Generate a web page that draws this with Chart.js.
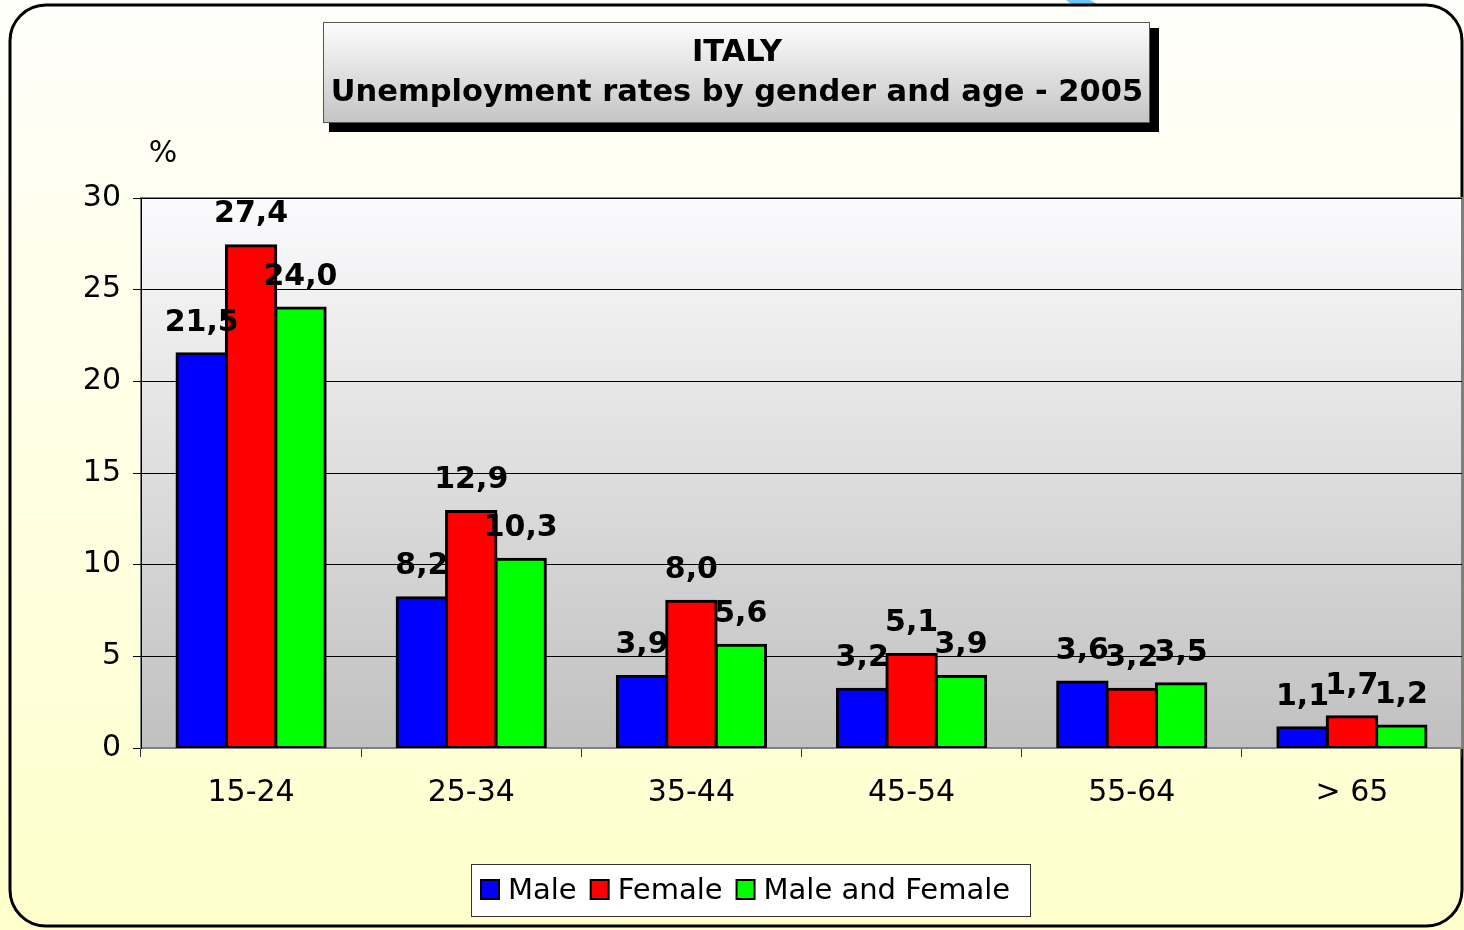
<!DOCTYPE html>
<html>
<head>
<meta charset="utf-8">
<script src="https://cdn.jsdelivr.net/npm/chart.js@4/dist/chart.umd.min.js"></script>
<style>
  html, body { margin: 0; padding: 0; background: #fff; }
  #wrap { width: 1464px; height: 930px; }
</style>
</head>
<body>
<div id="wrap"><canvas id="chart" width="1464" height="930"></canvas></div>
<script>
// Data
const ageGroups = ["15-24", "25-34", "35-44", "45-54", "55-64", "> 65"];
const male = [21.5, 8.2, 3.9, 3.2, 3.6, 1.1];
const female = [27.4, 12.9, 8.0, 5.1, 3.2, 1.7];
const maleAndFemale = [24.0, 10.3, 5.6, 3.9, 3.5, 1.2];
const yTicks = [0, 5, 10, 15, 20, 25, 30];
const titleLines = ["ITALY", "Unemployment rates by gender and age - 2005"];

const FONT = "'DejaVu Sans', Verdana, sans-serif";

function fmt(v) {
  return v.toFixed(1).replace(".", ",");
}

// page background, rounded frame, title box, plot area
const backdrop = {
  id: "backdrop",
  beforeDraw(chart) {
    const ctx = chart.ctx;
    const W = chart.width, H = chart.height;
    ctx.save();
    let g = ctx.createLinearGradient(0, 0, 0, H);
    g.addColorStop(0, "#fffffb");
    g.addColorStop(1, "#ffffcc");
    ctx.fillStyle = g;
    ctx.fillRect(0, 0, W, H);

    // little blue shape at top edge
    ctx.fillStyle = "#66c8ff";
    ctx.beginPath();
    ctx.moveTo(1066, 0); ctx.lineTo(1090, 0); ctx.lineTo(1099, 5); ctx.lineTo(1072, 5);
    ctx.closePath(); ctx.fill();

    // rounded frame
    ctx.strokeStyle = "#000";
    ctx.lineWidth = 3;
    ctx.beginPath();
    ctx.roundRect(10, 5, 1452, 921, 36);
    ctx.stroke();

    // title box with shadow
    ctx.fillStyle = "#000";
    ctx.fillRect(329, 28, 830, 104);
    g = ctx.createLinearGradient(0, 22, 0, 123);
    g.addColorStop(0, "#fdfdfd");
    g.addColorStop(1, "#c4c4c4");
    ctx.fillStyle = g;
    ctx.fillRect(323, 22, 827, 101);
    ctx.strokeStyle = "#555";
    ctx.lineWidth = 1;
    ctx.strokeRect(323.5, 22.5, 826, 100);
    ctx.fillStyle = "#000";
    ctx.font = "bold 30.5px " + FONT;
    ctx.textAlign = "center";
    ctx.textBaseline = "middle";
    ctx.fillText(titleLines[0], 737, 53);
    ctx.fillText(titleLines[1], 737, 93);

    // % unit
    ctx.font = "30px " + FONT;
    ctx.fillText("%", 163, 154);

    // plot area
    const a = chart.chartArea;
    g = ctx.createLinearGradient(0, a.top, 0, a.bottom);
    g.addColorStop(0, "#fbfbfd");
    g.addColorStop(1, "#c0c0c0");
    ctx.fillStyle = g;
    ctx.fillRect(a.left, a.top, a.right - a.left, a.bottom - a.top);
    ctx.strokeStyle = "#808080";
    ctx.lineWidth = 2;
    ctx.strokeRect(a.left, a.top, a.right - a.left, a.bottom - a.top);
    ctx.restore();
  },
  afterDraw(chart) {
    const ctx = chart.ctx;
    ctx.save();
    // value labels above bars
    ctx.font = "bold 30px " + FONT;
    ctx.fillStyle = "#000";
    ctx.textAlign = "center";
    ctx.textBaseline = "middle";
    chart.data.datasets.forEach((ds, di) => {
      const meta = chart.getDatasetMeta(di);
      meta.data.forEach((bar, i) => {
        ctx.fillText(fmt(ds.data[i]), bar.x, bar.y - 31);
      });
    });

    // legend box
    ctx.fillStyle = "#fff";
    ctx.fillRect(471, 864, 560, 53);
    ctx.strokeStyle = "#333";
    ctx.lineWidth = 1;
    ctx.strokeRect(471.5, 864.5, 559, 52);
    ctx.font = "29px " + FONT;
    ctx.textAlign = "left";
    let x = 481;
    chart.data.datasets.forEach(ds => {
      ctx.fillStyle = ds.backgroundColor;
      ctx.fillRect(x, 880, 18, 19);
      ctx.strokeStyle = "#000";
      ctx.lineWidth = 2;
      ctx.strokeRect(x, 880, 18, 19);
      ctx.fillStyle = "#000";
      ctx.fillText(ds.label, x + 27, 891);
      x += 27 + ctx.measureText(ds.label).width + 14;
    });
    ctx.restore();
  }
};

new Chart(document.getElementById("chart").getContext("2d"), {
  type: "bar",
  data: {
    labels: ageGroups,
    datasets: [
      { label: "Male", data: male, backgroundColor: "#0000ff" },
      { label: "Female", data: female, backgroundColor: "#ff0000" },
      { label: "Male and Female", data: maleAndFemale, backgroundColor: "#00ff00" }
    ]
  },
  options: {
    responsive: false,
    animation: false,
    layout: { padding: { top: 198, right: 2, left: 0, bottom: 0 } },
    datasets: {
      bar: {
        barPercentage: 1,
        categoryPercentage: 0.673,
        borderColor: "#000",
        borderWidth: 3,
        borderSkipped: false,
        inflateAmount: 1.5
      }
    },
    plugins: {
      legend: { display: false },
      title: { display: false },
      tooltip: { enabled: false }
    },
    scales: {
      x: {
        grid: {
          offset: true,
          drawOnChartArea: false,
          drawTicks: true,
          tickLength: 9,
          tickColor: "#333",
          tickWidth: 1
        },
        border: { display: true, color: "#808080", width: 2 },
        ticks: {
          color: "#000",
          font: { family: FONT, size: 30 },
          padding: 18,
          maxRotation: 0
        },
        afterFit(scale) { scale.height = 182; }
      },
      y: {
        min: 0,
        max: 30,
        afterBuildTicks(scale) {
          scale.ticks = yTicks.map(v => ({ value: v }));
        },
        grid: {
          color: "#000",
          lineWidth: 1,
          tickLength: 8,
          tickColor: "#000"
        },
        border: { display: true, color: "#000", width: 1 },
        ticks: {
          color: "#000",
          font: { family: FONT, size: 30 },
          padding: 12
        },
        afterFit(scale) { scale.width = 141; }
      }
    }
  },
  plugins: [backdrop]
});
</script>
</body>
</html>
